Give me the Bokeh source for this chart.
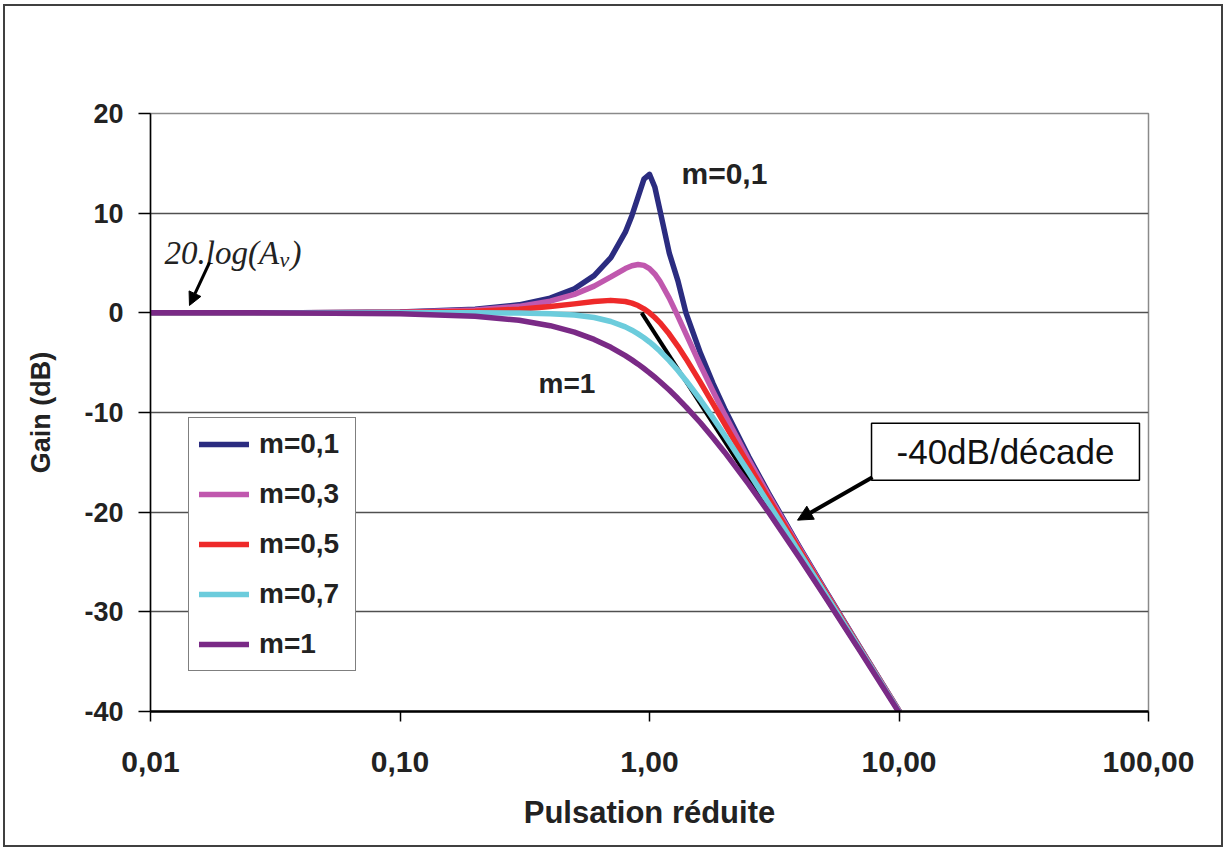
from bokeh.plotting import figure
from bokeh.models import FixedTicker, Legend, LegendItem, Label, Arrow, NormalHead, InlineStyleSheet
from bokeh.embed import file_html
from bokeh.resources import INLINE

# ---- data ----
pulsation = [0.01, 0.02, 0.04, 0.1, 0.2, 0.3, 0.4, 0.5, 0.6, 0.7, 0.8, 0.85, 0.9, 0.95,
             1.0, 1.05, 1.1, 1.2, 1.3, 1.4, 1.6, 1.8, 2.0, 2.5, 3.0, 4.0, 5.0, 7.0, 10.0]
gain_m01 = [0, 0, 0.01, 0.09, 0.35, 0.80, 1.48, 2.42, 3.73, 5.53, 8.09, 9.75, 11.64, 13.41,
            13.90, 12.63, 10.34, 6.00, 3.20, 0.00, -4.04, -7.12, -9.62, -14.44, -18.09, -23.53, -27.61, -33.63, -39.91]
gain_m03 = [0, 0, 0.01, 0.07, 0.29, 0.65, 1.17, 1.85, 2.68, 3.60, 4.44, 4.72, 4.85, 4.76,
            4.44, 3.90, 3.19, 1.48, -0.35, -2.11, -5.26, -7.91, -10.19, -14.74, -18.28, -23.63, -27.67, -33.66, -39.93]
gain_m05 = [0, 0, 0.0, 0.04, 0.17, 0.37, 0.63, 0.90, 1.14, 1.25, 1.14, 0.97, 0.73, 0.40,
            0.00, -0.47, -0.98, -2.13, -3.36, -4.60, -6.98, -9.17, -11.14, -15.29, -18.63, -23.82, -27.79, -33.72, -39.96]
gain_m07 = [0, 0, 0, 0.0, 0.0, -0.02, -0.08, -0.22, -0.47, -0.87, -1.41, -1.74, -2.11, -2.50,
            -2.92, -3.37, -3.83, -4.79, -5.78, -6.78, -8.72, -10.56, -12.26, -16.00, -19.12, -24.09, -27.96, -33.80, -40.00]
gain_m1 = [0, 0, -0.01, -0.09, -0.34, -0.75, -1.29, -1.94, -2.67, -3.46, -4.30, -4.72, -5.15, -5.59,
           -6.02, -6.46, -6.89, -7.75, -8.60, -9.43, -11.03, -12.55, -13.98, -17.21, -20.00, -24.61, -28.30, -33.98, -40.09]
series_names = ["m=0,1", "m=0,3", "m=0,5", "m=0,7", "m=1"]
series_colors = ["#2B2C80", "#C058AE", "#EE2A2A", "#6CCCDC", "#7A2A86"]

asym_x = [0.93, 10.0]
asym_y = [0.0, -40.0]

x_ticks = [0.01, 0.1, 1, 10, 100]
x_tick_labels = ["0,01", "0,10", "1,00", "10,00", "100,00"]
y_ticks = [-40, -30, -20, -10, 0, 10, 20]
y_tick_labels = ["-40", "-30", "-20", "-10", "0", "10", "20"]

FONT = "Liberation Sans"

p = figure(width=1225, height=850, x_axis_type="log", x_range=(0.01, 100), y_range=(-40, 20),
           output_backend="svg", toolbar_location=None,
           min_border_left=150, min_border_right=77, min_border_top=113, min_border_bottom=139,
           background_fill_color="white", border_fill_color="white")
p.outline_line_color = "#8a8a8a"
p.outline_line_width = 1.5

# outer picture border (drawn with CSS over the canvas)
p.stylesheets = [InlineStyleSheet(css="""
:host { position: relative; }
:host::after {
  content: ""; position: absolute; left: 3px; top: 4px; right: 2px; bottom: 3px;
  border: 2px solid #404040; pointer-events: none; z-index: 100;
}
""")]

# axes
p.xaxis.ticker = FixedTicker(ticks=x_ticks, minor_ticks=[])
p.yaxis.ticker = FixedTicker(ticks=y_ticks, minor_ticks=[])
p.xaxis.major_label_overrides = dict(zip(x_ticks, x_tick_labels))
p.yaxis.major_label_overrides = dict(zip(y_ticks, y_tick_labels))
for ax in (p.xaxis[0], p.yaxis[0]):
    ax.major_label_text_font = FONT
    ax.major_label_text_font_style = "bold"
    ax.major_label_text_color = "#222222"
    ax.axis_label_text_font = FONT
    ax.axis_label_text_font_style = "bold"
    ax.axis_label_text_color = "#222222"
    ax.axis_line_color = "black"
    ax.major_tick_line_color = "black"
    ax.major_tick_line_width = 1.5
    ax.major_tick_in = 0
    ax.minor_tick_line_color = None
p.xaxis.axis_label = "Pulsation réduite"
p.yaxis.axis_label = "Gain (dB)"
p.xaxis.major_label_text_font_size = "30px"
p.yaxis.major_label_text_font_size = "27px"
p.xaxis.axis_label_text_font_size = "31px"
p.yaxis.axis_label_text_font_size = "27px"
p.xaxis.axis_line_width = 2.5
p.yaxis.axis_line_width = 1.5
p.xaxis.major_tick_out = 10
p.yaxis.major_tick_out = 12
p.xaxis.major_label_standoff = 30
p.yaxis.major_label_standoff = 15
p.xaxis.axis_label_standoff = 20
p.yaxis.axis_label_standoff = 25

p.xgrid.visible = False
p.ygrid.ticker = FixedTicker(ticks=y_ticks)
p.ygrid.grid_line_color = "#505050"
p.ygrid.grid_line_width = 1.4

# asymptote
p.line(asym_x, asym_y, line_color="black", line_width=4)

# curves
series = [gain_m01, gain_m03, gain_m05, gain_m07, gain_m1]
items = []
for name, col, g in zip(series_names, series_colors, series):
    r = p.line(pulsation, g, line_color=col, line_width=5.5, line_join="round", line_cap="round")
    items.append(LegendItem(label=name, renderers=[r]))

legend = Legend(items=items, location=(38, 40))
legend.border_line_color = "black"
legend.border_line_width = 1.5
legend.background_fill_color = "white"
legend.background_fill_alpha = 1
legend.label_text_font = FONT
legend.label_text_font_style = "bold"
legend.label_text_font_size = "28px"
legend.label_text_color = "#222222"
legend.glyph_width = 50
legend.glyph_height = 30
legend.label_height = 30
legend.label_width = 86
legend.spacing = 18
legend.padding = 10
legend.margin = 0
legend.label_standoff = 10
p.add_layout(legend)

# annotations
p.add_layout(Label(x=1.343, y=13.98, text="m=0,1", text_font=FONT, text_font_style="bold",
                   text_font_size="30px", text_color="#222222", text_baseline="alphabetic"))
p.add_layout(Label(x=0.359, y=-7.09, text="m=1", text_font=FONT, text_font_style="bold",
                   text_font_size="28px", text_color="#222222", text_baseline="alphabetic"))

av_x, av_y = 0.01138, 6.05
p.add_layout(Label(x=av_x, y=av_y, text="20.log(A", text_font="Liberation Serif",
                   text_font_style="italic", text_font_size="33px", text_color="#222222",
                   text_baseline="alphabetic"))
p.add_layout(Label(x=av_x, y=av_y, x_offset=115, y_offset=-7, text="v", text_font="Liberation Serif",
                   text_font_style="italic", text_font_size="22px", text_color="#222222",
                   text_baseline="alphabetic"))
p.add_layout(Label(x=av_x, y=av_y, x_offset=126, text=")", text_font="Liberation Serif",
                   text_font_style="italic", text_font_size="33px", text_color="#222222",
                   text_baseline="alphabetic"))
p.add_layout(Arrow(end=NormalHead(size=13, fill_color="black", line_color="black"),
                   x_start=0.01724, y_start=5.05, x_end=0.01433, y_end=0.74,
                   line_color="black", line_width=3))

p.add_layout(Label(x=7.76, y=-16.8, text="-40dB/décade", text_font=FONT,
                   text_font_size="35px", text_color="#111111",
                   text_align="left", text_baseline="bottom",
                   border_line_color="black", border_line_width=1.5,
                   background_fill_color="white", padding={"x": 25, "y": 9}))
p.add_layout(Arrow(end=NormalHead(size=15, fill_color="black", line_color="black"),
                   x_start=7.83, y_start=-16.5, x_end=3.92, y_end=-20.8,
                   line_color="black", line_width=4))

open("out.html", "w").write(file_html(p, INLINE))
